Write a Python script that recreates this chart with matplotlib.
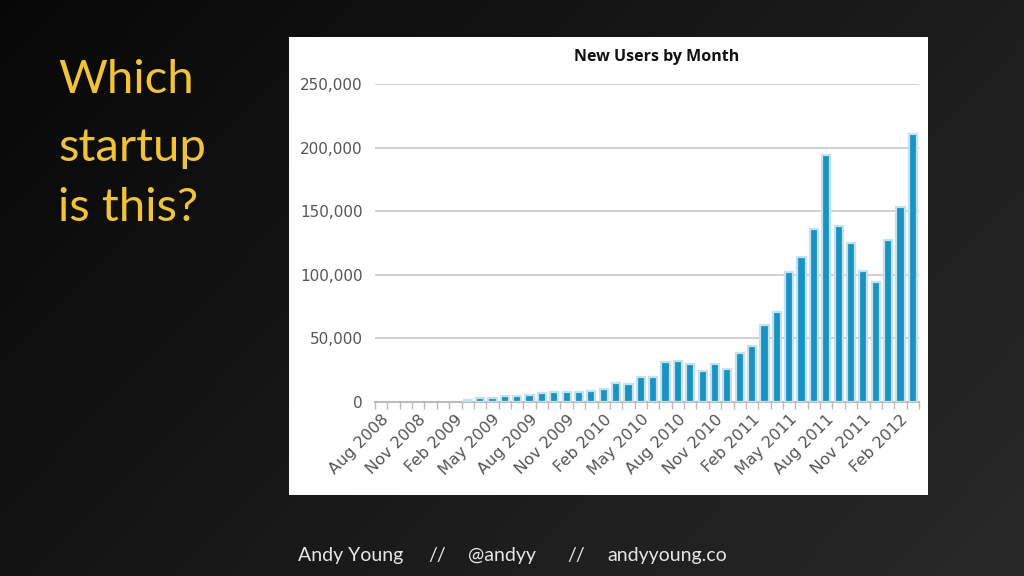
import numpy as np
import matplotlib.pyplot as plt

# monthly new users, Aug 2008 .. Mar 2012
months = ['Aug 2008', 'Sep 2008', 'Oct 2008', 'Nov 2008', 'Dec 2008',
          'Jan 2009', 'Feb 2009', 'Mar 2009', 'Apr 2009', 'May 2009', 'Jun 2009',
          'Jul 2009', 'Aug 2009', 'Sep 2009', 'Oct 2009', 'Nov 2009', 'Dec 2009',
          'Jan 2010', 'Feb 2010', 'Mar 2010', 'Apr 2010', 'May 2010', 'Jun 2010',
          'Jul 2010', 'Aug 2010', 'Sep 2010', 'Oct 2010', 'Nov 2010', 'Dec 2010',
          'Jan 2011', 'Feb 2011', 'Mar 2011', 'Apr 2011', 'May 2011', 'Jun 2011',
          'Jul 2011', 'Aug 2011', 'Sep 2011', 'Oct 2011', 'Nov 2011', 'Dec 2011',
          'Jan 2012', 'Feb 2012', 'Mar 2012']
new_users = [0, 0, 0, 0, 0, 0, 0, 1500, 3500, 3500, 5000,
             5000, 5800, 6800, 7600, 7600, 7600,
             8700, 10300, 15000, 14200, 19700, 19700,
             31600, 32000, 30200, 24700, 30200, 25800,
             38700, 44200, 60200, 70700, 102000, 114000,
             136000, 194000, 138000, 125000, 103000, 94000,
             127000, 153000, 211000]
labelled = ['Aug 2008', 'Nov 2008', 'Feb 2009', 'May 2009', 'Aug 2009', 'Nov 2009',
            'Feb 2010', 'May 2010', 'Aug 2010', 'Nov 2010', 'Feb 2011', 'May 2011',
            'Aug 2011', 'Nov 2011', 'Feb 2012']
y_ticks = [0, 50000, 100000, 150000, 200000, 250000]
footer = [('Andy Young', 298), ('//', 428), ('@andyy', 468), ('//', 567),
          ('andyyoung.co', 607)]

W, H = 1024, 576
fig = plt.figure(figsize=(W / 100, H / 100), dpi=100)

# dark slide background with a soft gradient
bg = fig.add_axes([0, 0, 1, 1])
gx, gy = np.meshgrid(np.linspace(0, 1, 256), np.linspace(0, 1, 144))
shade = 0.03 + 0.13 * (0.65 * gx + 0.35 * gy)
bg.imshow(np.dstack([shade, shade, shade]), aspect='auto', extent=[0, 1, 0, 1],
          origin='upper')
bg.set_xlim(0, 1)
bg.set_ylim(0, 1)
bg.axis('off')

# white card holding the chart
card = fig.add_axes([289 / W, (H - 495) / H, 639 / W, 458 / H])
card.set_facecolor('white')
card.set_xticks([])
card.set_yticks([])
for s in card.spines.values():
    s.set_visible(False)

# slide text
yellow = '#f2c337'
for txt, y in [('Which', 80), ('startup', 148), ('is this?', 208)]:
    fig.text(58 / W, 1 - y / H, txt, color=yellow, fontsize=34, family='Lato',
             va='center', ha='left')
for txt, xpos in footer:
    fig.text(xpos / W, 1 - 556 / H, txt, color='#e6e6e6', fontsize=14,
             family='Lato', va='center', ha='left')

# the bar chart
ax = fig.add_axes([375 / W, (H - 402) / H, 544 / W, 318 / H])
x = np.arange(len(months))
vals = np.array(new_users)
has = vals > 0
ax.bar(x[has], vals[has], width=0.66, color='#1a93c3', edgecolor='#c4e2ee',
       linewidth=1.6, zorder=3)
ax.set_xlim(-0.5, len(months) - 0.5)
ax.set_ylim(0, 250000)
ax.set_yticks(y_ticks)
ax.set_yticklabels([f'{v:,}' for v in y_ticks], fontsize=11, color='#555555')
ax.yaxis.grid(True, color='#cdcdcd', linewidth=1.3, zorder=0)
ax.tick_params(axis='y', length=0, pad=9)

ax.set_xticks([months.index(m) for m in labelled])
ax.set_xticklabels(labelled, rotation=45, ha='right', rotation_mode='anchor',
                   fontsize=11.5, color='#555555')
ax.tick_params(axis='x', which='major', length=0, pad=7)
ax.set_xticks(np.arange(len(months) + 1) - 0.5, minor=True)
ax.tick_params(axis='x', which='minor', length=5, color='#bbbbbb', width=1)

for side in ['top', 'right', 'left']:
    ax.spines[side].set_visible(False)
ax.spines['bottom'].set_color('#bbbbbb')
ax.spines['bottom'].set_linewidth(1.5)
ax.set_facecolor('none')

fig.text(657 / W, 1 - 57 / H, 'New Users by Month', fontsize=11.5,
         fontweight='bold', color='#111111', ha='center', va='center',
         family='Open Sans')

fig.savefig('out.png', dpi=100)
